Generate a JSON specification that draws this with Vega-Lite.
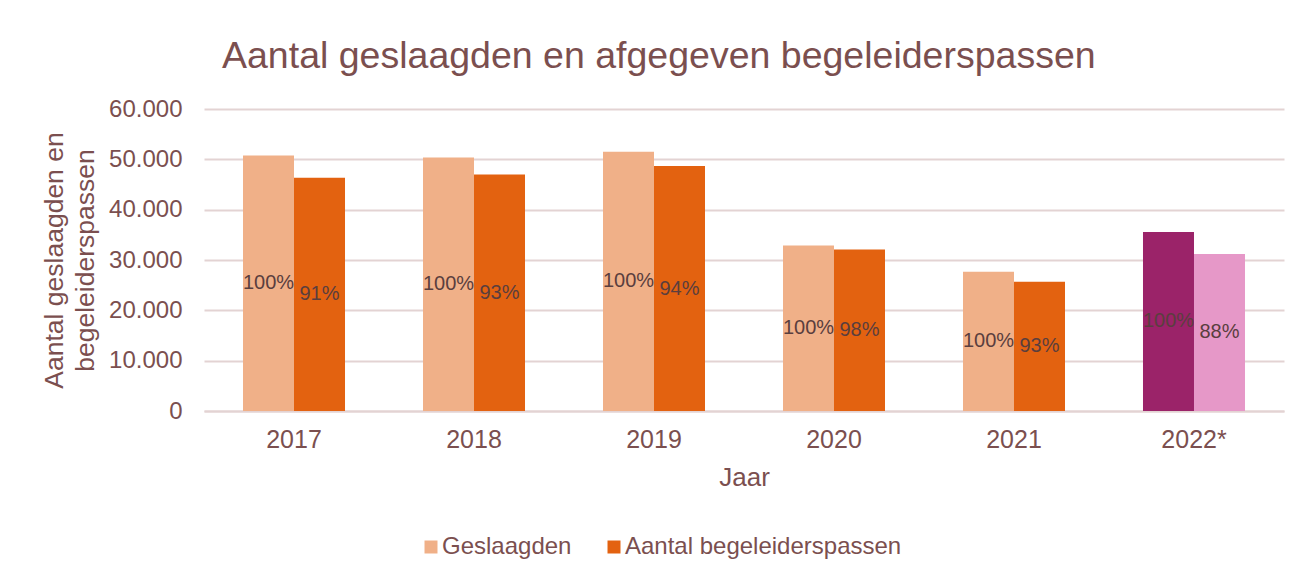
{
  "$schema": "https://vega.github.io/schema/vega-lite/v6.json",
  "autosize": {"type": "none"},
  "width": 1080,
  "height": 302,
  "padding": {"left": 204, "top": 109, "right": 17, "bottom": 164},
  "background": "white",
  "config": {
    "font": "Liberation Sans",
    "view": {"stroke": null},
    "axisY": {
      "titleFontSize": 26.5,
      "titleFontWeight": "normal",
      "titleColor": "#7B4F4F",
      "titleLineHeight": 31,
      "titlePadding": 9,
      "labelFontSize": 24,
      "labelColor": "#7B4F4F",
      "labelPadding": 22,
      "labelOverlap": false,
      "ticks": false,
      "domain": false,
      "gridColor": "#E3D3D3",
      "gridWidth": 2
    }
  },
  "title": {
    "text": "Aantal geslaagden en afgegeven begeleiderspassen",
    "fontSize": 37.5,
    "fontWeight": "normal",
    "color": "#7B4F4F",
    "font": "Liberation Sans",
    "anchor": "middle",
    "frame": "bounds",
    "dx": -4,
    "offset": 22
  },
  "data": {
    "values": [
      {"jaar": "2017", "reeks": "Geslaagden", "aantal": 50770, "pct": "100%"},
      {"jaar": "2017", "reeks": "Aantal begeleiderspassen", "aantal": 46330, "pct": "91%"},
      {"jaar": "2018", "reeks": "Geslaagden", "aantal": 50340, "pct": "100%"},
      {"jaar": "2018", "reeks": "Aantal begeleiderspassen", "aantal": 47010, "pct": "93%"},
      {"jaar": "2019", "reeks": "Geslaagden", "aantal": 51530, "pct": "100%"},
      {"jaar": "2019", "reeks": "Aantal begeleiderspassen", "aantal": 48670, "pct": "94%"},
      {"jaar": "2020", "reeks": "Geslaagden", "aantal": 32900, "pct": "100%"},
      {"jaar": "2020", "reeks": "Aantal begeleiderspassen", "aantal": 32110, "pct": "98%"},
      {"jaar": "2021", "reeks": "Geslaagden", "aantal": 27670, "pct": "100%"},
      {"jaar": "2021", "reeks": "Aantal begeleiderspassen", "aantal": 25680, "pct": "93%"},
      {"jaar": "2022*", "reeks": "Geslaagden", "aantal": 35580, "pct": "100%"},
      {"jaar": "2022*", "reeks": "Aantal begeleiderspassen", "aantal": 31200, "pct": "88%"}
    ]
  },
  "encoding": {
    "x": {
      "field": "jaar",
      "type": "nominal",
      "sort": null,
      "scale": {"paddingInner": 0.4333, "paddingOuter": 0.2167},
      "axis": {
        "title": "Jaar",
        "labelAngle": 0,
        "labelFontSize": 25,
        "labelColor": "#7B4F4F",
        "labelPadding": 16,
        "titleFontSize": 26,
        "titleFontWeight": "normal",
        "titleColor": "#7B4F4F",
        "titlePadding": 12,
        "ticks": false,
        "domain": true,
        "domainColor": "#E3D3D3",
        "domainWidth": 2,
        "grid": false
      }
    },
    "xOffset": {
      "field": "reeks",
      "type": "nominal",
      "sort": ["Geslaagden", "Aantal begeleiderspassen"],
      "scale": {"paddingInner": 0, "paddingOuter": 0}
    }
  },
  "layer": [
    {
      "mark": {"type": "bar"},
      "encoding": {
        "y": {
          "field": "aantal",
          "type": "quantitative",
          "scale": {"domain": [0, 60000]},
          "axis": {
            "title": ["Aantal geslaagden en", "begeleiderspassen"],
            "values": [0, 10000, 20000, 30000, 40000, 50000, 60000],
            "labelExpr": "replace(format(datum.value, ','), ',', '.')"
          }
        },
        "color": {
          "field": "reeks",
          "type": "nominal",
          "sort": ["Geslaagden", "Aantal begeleiderspassen"],
          "scale": {
            "domain": ["Geslaagden", "Aantal begeleiderspassen"],
            "range": ["#F0B088", "#E36210"]
          },
          "condition": [
            {"test": "datum.jaar === '2022*' && datum.reeks === 'Geslaagden'", "value": "#9B2369"},
            {"test": "datum.jaar === '2022*' && datum.reeks === 'Aantal begeleiderspassen'", "value": "#E698C8"}
          ],
          "legend": {
            "title": null,
            "orient": "none",
            "direction": "horizontal",
            "legendX": 215,
            "legendY": 426,
            "symbolType": "square",
            "symbolSize": 169,
            "symbolStrokeWidth": 0,
            "labelFontSize": 24,
            "labelColor": "#7B4F4F",
            "labelOffset": -1,
            "columnPadding": 30,
            "labelLimit": 400
          }
        }
      }
    },
    {
      "mark": {"type": "text", "fontSize": 20, "color": "#5A3E3E", "baseline": "middle", "align": "center"},
      "transform": [{"calculate": "datum.aantal / 2", "as": "midden"}],
      "encoding": {
        "y": {
          "field": "midden",
          "type": "quantitative",
          "axis": {
            "title": ["Aantal geslaagden en", "begeleiderspassen"],
            "values": [0, 10000, 20000, 30000, 40000, 50000, 60000],
            "labelExpr": "replace(format(datum.value, ','), ',', '.')"
          }
        },
        "text": {"field": "pct"}
      }
    }
  ]
}
